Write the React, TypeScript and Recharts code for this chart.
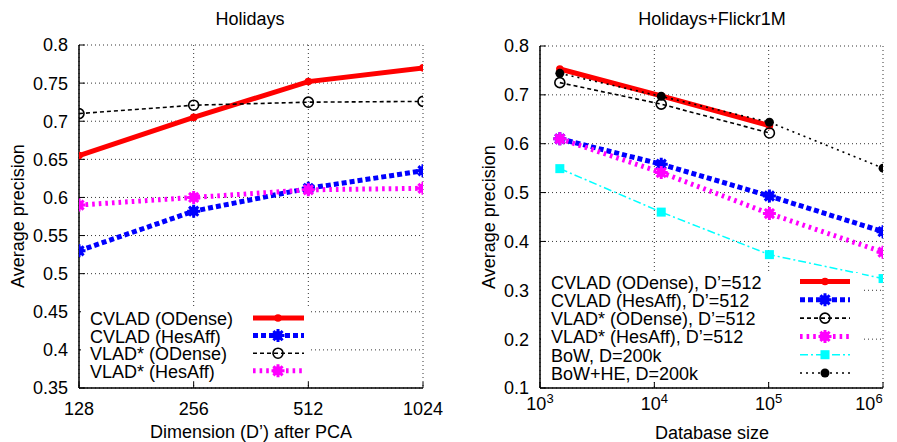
import React from 'react';
import { LineChart, Line, XAxis, YAxis, CartesianGrid } from 'recharts';

// ---- Left chart: Holidays ----
const dims = [128, 256, 512, 1024];
const cvladODenseH = [0.655, 0.705, 0.752, 0.770];
const cvladHesAffH = [0.530, 0.582, 0.612, 0.635];
const vladODenseH = [0.710, 0.721, 0.725, 0.726];
const vladHesAffH = [0.590, 0.600, 0.610, 0.612];
const leftYTicks = [0.35, 0.4, 0.45, 0.5, 0.55, 0.6, 0.65, 0.7, 0.75, 0.8];

// ---- Right chart: Holidays+Flickr1M ----
const dbSizes = [1491, 11491, 101491, 1001491];
const cvladODenseF = [0.753, 0.698, 0.637, null];
const cvladHesAffF = [0.610, 0.558, 0.493, 0.420];
const vladODenseF = [0.725, 0.681, 0.622, null];
const vladHesAffF = [0.610, 0.541, 0.457, 0.378];
const bowF = [0.549, 0.460, 0.373, 0.324];
const bowHeF = [0.744, 0.697, 0.644, 0.550];
const rightYTicks = [0.1, 0.2, 0.3, 0.4, 0.5, 0.6, 0.7, 0.8];
const rightXTicks = [1000, 10000, 100000, 1000000];

const leftLegend = ['CVLAD (ODense)', 'CVLAD (HesAff)', 'VLAD* (ODense)', 'VLAD* (HesAff)'];
const rightLegend = [
  'CVLAD (ODense), D\u2019=512',
  'CVLAD (HesAff), D\u2019=512',
  'VLAD* (ODense), D\u2019=512',
  'VLAD* (HesAff), D\u2019=512',
  'BoW, D=200k',
  'BoW+HE, D=200k',
];

const leftData = dims.map((d, i) => ({
  x: d,
  a: cvladODenseH[i],
  b: cvladHesAffH[i],
  c: vladODenseH[i],
  d: vladHesAffH[i],
}));

const rightData = dbSizes.map((s, i) => ({
  x: s,
  a: cvladODenseF[i],
  b: cvladHesAffF[i],
  c: vladODenseF[i],
  d: vladHesAffF[i],
  e: bowF[i],
  f: bowHeF[i],
}));

const FONT = '"Liberation Sans", Arial, Helvetica, sans-serif';

type Style = {
  key: string;
  color: string;
  width: number;
  dash?: string;
  marker: 'small' | 'star' | 'open' | 'square' | 'filled';
};

const styles: Style[] = [
  { key: 'a', color: '#ff0000', width: 5, marker: 'small' },
  { key: 'b', color: '#0000ff', width: 5, dash: '5 3', marker: 'star' },
  { key: 'c', color: '#000000', width: 1.6, dash: '4 3', marker: 'open' },
  { key: 'd', color: '#ff00ff', width: 5, dash: '2.6 4', marker: 'star' },
  { key: 'e', color: '#00ffff', width: 1.5, dash: '8 3 2 3', marker: 'square' },
  { key: 'f', color: '#000000', width: 1.6, dash: '2 4', marker: 'filled' },
];

function markerShape(kind: Style['marker'], color: string, cx: number, cy: number, k?: string) {
  switch (kind) {
    case 'small':
      return <circle key={k} cx={cx} cy={cy} r={3.8} fill={color} />;
    case 'star':
      return (
        <g key={k}>
          <circle cx={cx} cy={cy} r={4.6} fill={color} />
          <path
            d={`M${cx - 6.5},${cy}H${cx + 6.5}M${cx},${cy - 6.5}V${cy + 6.5}M${cx - 4.6},${cy - 4.6}L${cx + 4.6},${cy + 4.6}M${cx - 4.6},${cy + 4.6}L${cx + 4.6},${cy - 4.6}`}
            stroke={color}
            strokeWidth={3}
          />
        </g>
      );
    case 'open':
      return <circle key={k} cx={cx} cy={cy} r={5} fill="none" stroke={color} strokeWidth={1.6} />;
    case 'square':
      return <rect key={k} x={cx - 4.5} y={cy - 4.5} width={9} height={9} fill={color} />;
    case 'filled':
    default:
      return <circle key={k} cx={cx} cy={cy} r={4.5} fill={color} />;
  }
}

const makeDot = (s: Style) => (props: any) => {
  const { cx, cy, index, value } = props;
  const k = `${s.key}-${index}`;
  if (cx == null || cy == null || value == null || (Array.isArray(value) && value[1] == null)) {
    return <g key={k} />;
  }
  return markerShape(s.marker, s.color, cx, cy, k);
};

const fmt = (v: number) => String(+v.toFixed(2));

const tickStyle = { fill: '#000', fontSize: 18, fontFamily: FONT };

const PowTick = (props: any) => {
  const { x, y, payload } = props;
  const e = Math.round(Math.log10(payload.value));
  return (
    <text x={x} y={y} textAnchor="middle" fill="#000" fontSize={18} fontFamily={FONT}>
      <tspan dy="0.71em">10</tspan>
      <tspan fontSize={13} dy="-0.55em">{e}</tspan>
    </text>
  );
};

function renderLines(keys: string[]) {
  return styles
    .filter((s) => keys.includes(s.key))
    .map((s) => (
      <Line
        key={s.key}
        dataKey={s.key}
        type="linear"
        stroke={s.color}
        strokeWidth={s.width}
        strokeDasharray={s.dash}
        dot={makeDot(s)}
        activeDot={false}
        isAnimationActive={false}
        connectNulls={false}
      />
    ));
}

function LegendBox({
  labels,
  textX,
  baseY,
  step,
  x1,
  x2,
  mx,
  box,
}: {
  labels: string[];
  textX: number;
  baseY: number;
  step: number;
  x1: number;
  x2: number;
  mx: number;
  box: { x: number; y: number; w: number; h: number };
}) {
  return (
    <g>
      <rect x={box.x} y={box.y} width={box.w} height={box.h} fill="#fff" />
      {labels.map((t, i) => {
        const s = styles[i];
        const by = baseY + i * step;
        const ly = by - 7;
        return (
          <g key={t}>
            <text x={textX} y={by} fontSize={18} fontFamily={FONT} fill="#000">
              {t}
            </text>
            <line x1={x1} x2={x2} y1={ly} y2={ly} stroke={s.color} strokeWidth={s.width} strokeDasharray={s.dash} />
            {markerShape(s.marker, s.color, mx, ly)}
          </g>
        );
      })}
    </g>
  );
}

export default function App() {
  return (
    <div style={{ position: 'absolute', left: 0, top: 0, width: 897, height: 442, background: '#fff' }}>
      <div style={{ position: 'absolute', left: 0, top: 0 }}>
        <LineChart width={450} height={442} data={leftData} margin={{ top: 45, right: 27, left: 0, bottom: 24 }}>
          <CartesianGrid stroke="#000" strokeWidth={0.8} strokeDasharray="1 3" />
          <XAxis
            dataKey="x"
            type="number"
            scale="log"
            domain={[128, 1024]}
            ticks={dims}
            allowDataOverflow
            height={30}
            tick={tickStyle}
            tickSize={-6}
            tickMargin={20}
            stroke="#000"
            axisLine={{ stroke: '#000', strokeWidth: 1.5 }}
            tickLine={{ stroke: '#000', strokeWidth: 1 }}
          />
          <XAxis
            xAxisId="top"
            orientation="top"
            dataKey="x"
            type="number"
            scale="log"
            domain={[128, 1024]}
            ticks={dims}
            allowDataOverflow
            height={0}
            tick={false}
            tickSize={-6}
            axisLine={{ stroke: '#000', strokeWidth: 1.5 }}
            tickLine={{ stroke: '#000', strokeWidth: 1 }}
          />
          <YAxis
            type="number"
            domain={[0.35, 0.8]}
            ticks={leftYTicks}
            allowDataOverflow
            width={79}
            tick={tickStyle}
            tickFormatter={fmt}
            tickSize={-6}
            tickMargin={17}
            axisLine={{ stroke: '#000', strokeWidth: 1.5 }}
            tickLine={{ stroke: '#000', strokeWidth: 1 }}
          />
          <YAxis
            yAxisId="right"
            orientation="right"
            type="number"
            domain={[0.35, 0.8]}
            ticks={leftYTicks}
            allowDataOverflow
            width={0}
            tick={false}
            tickSize={-6}
            axisLine={{ stroke: '#000', strokeWidth: 1.5 }}
            tickLine={{ stroke: '#000', strokeWidth: 1 }}
          />
          {renderLines(['a', 'b', 'c', 'd'])}
        </LineChart>
      </div>
      <div style={{ position: 'absolute', left: 450, top: 0 }}>
        <LineChart width={447} height={442} data={rightData} margin={{ top: 46, right: 14, left: 0, bottom: 24 }}>
          <CartesianGrid stroke="#000" strokeWidth={0.8} strokeDasharray="1 3" />
          <XAxis
            dataKey="x"
            type="number"
            scale="log"
            domain={[1000, 1000000]}
            ticks={rightXTicks}
            allowDataOverflow
            height={30}
            tick={<PowTick />}
            tickSize={-6}
            tickMargin={15}
            axisLine={{ stroke: '#000', strokeWidth: 1.5 }}
            tickLine={{ stroke: '#000', strokeWidth: 1 }}
          />
          <XAxis
            xAxisId="top"
            orientation="top"
            dataKey="x"
            type="number"
            scale="log"
            domain={[1000, 1000000]}
            ticks={rightXTicks}
            allowDataOverflow
            height={0}
            tick={false}
            tickSize={-6}
            axisLine={{ stroke: '#000', strokeWidth: 1.5 }}
            tickLine={{ stroke: '#000', strokeWidth: 1 }}
          />
          <YAxis
            type="number"
            domain={[0.1, 0.8]}
            ticks={rightYTicks}
            allowDataOverflow
            width={90}
            tick={tickStyle}
            tickFormatter={fmt}
            tickSize={-6}
            tickMargin={17}
            axisLine={{ stroke: '#000', strokeWidth: 1.5 }}
            tickLine={{ stroke: '#000', strokeWidth: 1 }}
          />
          <YAxis
            yAxisId="right"
            orientation="right"
            type="number"
            domain={[0.1, 0.8]}
            ticks={rightYTicks}
            allowDataOverflow
            width={0}
            tick={false}
            tickSize={-6}
            axisLine={{ stroke: '#000', strokeWidth: 1.5 }}
            tickLine={{ stroke: '#000', strokeWidth: 1 }}
          />
          {renderLines(['a', 'b', 'c', 'd', 'e', 'f'])}
        </LineChart>
      </div>
      <svg
        width={897}
        height={442}
        style={{ position: 'absolute', left: 0, top: 0, pointerEvents: 'none' }}
      >
        <text x={250} y={25} textAnchor="middle" fontSize={18} fontFamily={FONT} fill="#000">
          Holidays
        </text>
        <text x={712} y={25} textAnchor="middle" fontSize={18} fontFamily={FONT} fill="#000">
          Holidays+Flickr1M
        </text>
        <text x={251} y={438} textAnchor="middle" fontSize={18} fontFamily={FONT} fill="#000">
          Dimension (D’) after PCA
        </text>
        <text x={712} y={439} textAnchor="middle" fontSize={18} fontFamily={FONT} fill="#000">
          Database size
        </text>
        <text
          x={0}
          y={0}
          transform="translate(23.5,216) rotate(-90)"
          textAnchor="middle"
          fontSize={18}
          fontFamily={FONT}
          fill="#000"
        >
          Average precision
        </text>
        <text
          x={0}
          y={0}
          transform="translate(495,217) rotate(-90)"
          textAnchor="middle"
          fontSize={18}
          fontFamily={FONT}
          fill="#000"
        >
          Average precision
        </text>
        <LegendBox
          labels={leftLegend}
          textX={90}
          baseY={325}
          step={17.6}
          x1={253}
          x2={304}
          mx={278}
          box={{ x: 81, y: 307, w: 229, h: 74 }}
        />
        <LegendBox
          labels={rightLegend}
          textX={551}
          baseY={288.5}
          step={18.3}
          x1={800}
          x2={850}
          mx={825}
          box={{ x: 541, y: 273, w: 321, h: 108 }}
        />
      </svg>
    </div>
  );
}
